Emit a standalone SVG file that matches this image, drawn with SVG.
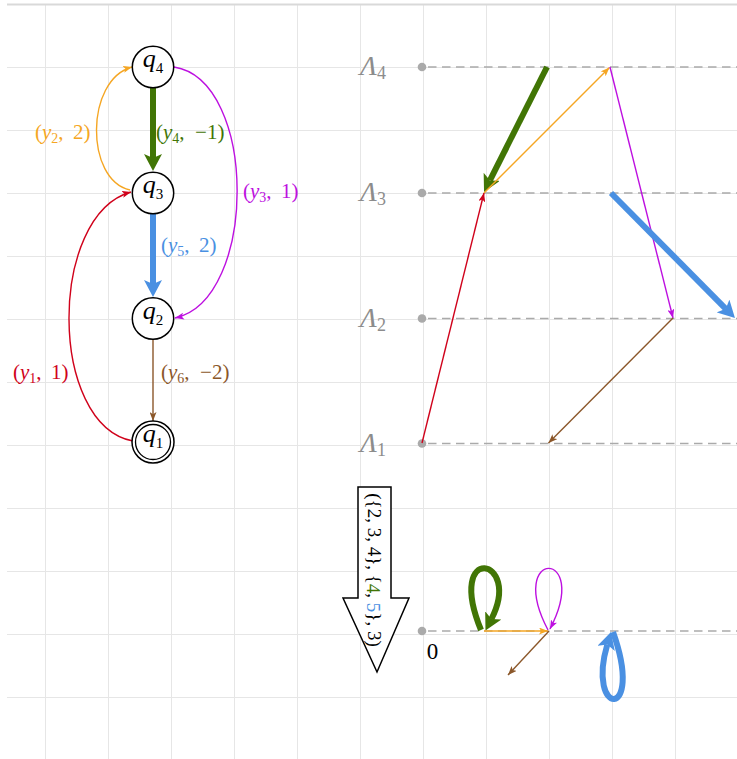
<svg xmlns="http://www.w3.org/2000/svg" width="737" height="759" viewBox="0 0 737 759">
<style>
.grid line{stroke:#e6e6e6;stroke-width:1}
.node circle{fill:#fff;stroke:#000;stroke-width:1.5}
.q{font-family:"Liberation Serif",serif;font-style:italic;font-size:26px;fill:#000}
.sub{font-style:normal;font-size:15px}
.lbl{font-family:"Liberation Serif",serif;font-size:21px}
.lbl .it{font-style:italic}
.lbl .s{font-size:14px}
.lam{font-family:"Liberation Serif",serif;font-style:italic;font-size:28px;fill:#8c8c8c}
.lam .s{font-style:normal;font-size:18px}
.dash{stroke:#aaa;stroke-width:1.5;stroke-dasharray:8.5 5.5;fill:none}
.dot{fill:#aaa}
.thin{fill:none;stroke-width:1.4}
.thick{fill:none;stroke-width:6}
.or{stroke:#f5a623}.gr{stroke:#417505}.mg{stroke:#bd10e0}.bl{stroke:#4a90e2}.rd{stroke:#d0021b}.br{stroke:#8b572a}
</style>
<defs>
<marker id="tOr" markerUnits="userSpaceOnUse" markerWidth="9" markerHeight="7" refX="9" refY="3.5" orient="auto"><path d="M0,0 L9,3.5 L0,7 L2.2,3.5 z" fill="#f5a623"/></marker>
<marker id="tMg" markerUnits="userSpaceOnUse" markerWidth="9" markerHeight="7" refX="9" refY="3.5" orient="auto"><path d="M0,0 L9,3.5 L0,7 L2.2,3.5 z" fill="#bd10e0"/></marker>
<marker id="tRd" markerUnits="userSpaceOnUse" markerWidth="9" markerHeight="7" refX="9" refY="3.5" orient="auto"><path d="M0,0 L9,3.5 L0,7 L2.2,3.5 z" fill="#d0021b"/></marker>
<marker id="tBr" markerUnits="userSpaceOnUse" markerWidth="9" markerHeight="7" refX="9" refY="3.5" orient="auto"><path d="M0,0 L9,3.5 L0,7 L2.2,3.5 z" fill="#8b572a"/></marker>
<marker id="kGr" markerUnits="userSpaceOnUse" markerWidth="17" markerHeight="18" refX="4" refY="9" orient="auto"><path d="M0,0 L17,9 L0,18 L4,9 z" fill="#417505"/></marker>
<marker id="kBl" markerUnits="userSpaceOnUse" markerWidth="17" markerHeight="18" refX="4" refY="9" orient="auto"><path d="M0,0 L17,9 L0,18 L4,9 z" fill="#4a90e2"/></marker>
</defs>
<rect width="737" height="759" fill="#fff"/>
<g class="grid">
<line x1="45.5" y1="5" x2="45.5" y2="759"/><line x1="108.5" y1="5" x2="108.5" y2="759"/><line x1="171.5" y1="5" x2="171.5" y2="759"/><line x1="234.5" y1="5" x2="234.5" y2="759"/><line x1="297.5" y1="5" x2="297.5" y2="759"/><line x1="360.5" y1="5" x2="360.5" y2="759"/><line x1="423.5" y1="5" x2="423.5" y2="759"/><line x1="486.5" y1="5" x2="486.5" y2="759"/><line x1="549.5" y1="5" x2="549.5" y2="759"/><line x1="612.5" y1="5" x2="612.5" y2="759"/><line x1="675.5" y1="5" x2="675.5" y2="759"/>
<line x1="7" y1="67.5" x2="737" y2="67.5"/><line x1="7" y1="130.5" x2="737" y2="130.5"/><line x1="7" y1="193.5" x2="737" y2="193.5"/><line x1="7" y1="256.5" x2="737" y2="256.5"/><line x1="7" y1="319.5" x2="737" y2="319.5"/><line x1="7" y1="382.5" x2="737" y2="382.5"/><line x1="7" y1="445.5" x2="737" y2="445.5"/><line x1="7" y1="508.5" x2="737" y2="508.5"/><line x1="7" y1="571.5" x2="737" y2="571.5"/><line x1="7" y1="634.5" x2="737" y2="634.5"/><line x1="7" y1="697.5" x2="737" y2="697.5"/>
<line x1="7" y1="4.5" x2="737" y2="4.5" style="stroke:#d9d9d9;stroke-width:2"/>
</g>
<g id="levels">
<path class="dash" d="M428,67 H737 M428,193 H737 M428,318.5 H737 M428,443.5 H737 M428,631 H737"/>
<circle class="dot" cx="422" cy="67" r="4.3"/><circle class="dot" cx="422" cy="193" r="4.3"/><circle class="dot" cx="422" cy="318.5" r="4.3"/><circle class="dot" cx="422" cy="443.5" r="4.3"/><circle class="dot" cx="422" cy="631" r="4.3"/>
<text class="lam" x="360" y="75">Λ<tspan class="s" dy="4">4</tspan></text>
<text class="lam" x="360" y="201">Λ<tspan class="s" dy="4">3</tspan></text>
<text class="lam" x="360" y="326.5">Λ<tspan class="s" dy="4">2</tspan></text>
<text class="lam" x="360" y="451.5">Λ<tspan class="s" dy="4">1</tspan></text>
<text x="432.5" y="659" font-family="Liberation Serif, serif" font-size="23" text-anchor="middle">0</text>
</g>
<g id="connectors">
<path class="thick gr" d="M153,88 V158" marker-end="url(#kGr)"/>
<path class="thick bl" d="M153,214 V284" marker-end="url(#kBl)"/>
<path class="thin br" d="M153,340 V421" marker-end="url(#tBr)"/>
<path class="thin or" d="M130,190 C85,180 85,80 132,67" marker-end="url(#tOr)"/>
<path class="thin mg" d="M174,67 C258,80 258,300 175,318" marker-end="url(#tMg)"/>
<path class="thin rd" d="M133,441 C48,425 48,215 131,192" marker-end="url(#tRd)"/>
<path class="thick gr" d="M547,67 L489.9,180.4" marker-end="url(#kGr)"/>
<path class="thin or" d="M484,193 L609.5,67.5" marker-end="url(#tOr)"/>
<path class="thin rd" d="M422,443 L484,193" marker-end="url(#tRd)"/>
<path class="thin mg" d="M610,67 L673,318" marker-end="url(#tMg)"/>
<path class="thick bl" d="M611,193 L725.8,308.8" marker-end="url(#kBl)"/>
<path class="thin br" d="M673,318 L548.5,443" marker-end="url(#tBr)"/>
<path class="thick gr" d="M481,630 C445,542 523,557 491.4,619" marker-end="url(#kGr)"/>
<path class="thin or" d="M484,631 L548,631" marker-end="url(#tOr)"/>
<path class="thin mg" d="M548,630 C505,548 592,548 550,629" marker-end="url(#tMg)"/>
<path class="thin br" d="M549,631 L508,675" marker-end="url(#tBr)"/>
<path class="thick bl" d="M613,632 C645,722 586.1,716.4 607.3,644.5" marker-end="url(#kBl)"/>
</g>
<g id="edge-labels" class="lbl">
<text x="35" y="139" fill="#f5a623">(<tspan class="it">y</tspan><tspan class="s" dy="4">2</tspan><tspan dy="-4">, &#8201;2)</tspan></text>
<text x="156" y="139" fill="#417505">(<tspan class="it">y</tspan><tspan class="s" dy="4">4</tspan><tspan dy="-4">, &#160;−1)</tspan></text>
<text x="243" y="198" fill="#bd10e0">(<tspan class="it">y</tspan><tspan class="s" dy="4">3</tspan><tspan dy="-4">, &#8201;1)</tspan></text>
<text x="161" y="252" fill="#4a90e2">(<tspan class="it">y</tspan><tspan class="s" dy="4">5</tspan><tspan dy="-4">, &#8201;2)</tspan></text>
<text x="13" y="379" fill="#d0021b">(<tspan class="it">y</tspan><tspan class="s" dy="4">1</tspan><tspan dy="-4">, &#8201;1)</tspan></text>
<text x="161" y="379" fill="#8b572a">(<tspan class="it">y</tspan><tspan class="s" dy="4">6</tspan><tspan dy="-4">, &#160;−2)</tspan></text>
</g>
<g id="q4" class="node"><circle cx="153" cy="67" r="20.7"/><text class="q" x="153" y="67" text-anchor="middle">q<tspan class="sub" dy="6">4</tspan></text></g>
<g id="q3" class="node"><circle cx="153" cy="193" r="20.7"/><text class="q" x="153" y="193" text-anchor="middle">q<tspan class="sub" dy="6">3</tspan></text></g>
<g id="q2" class="node"><circle cx="153" cy="318.5" r="20.7"/><text class="q" x="153" y="318.5" text-anchor="middle">q<tspan class="sub" dy="6">2</tspan></text></g>
<g id="q1" class="node"><circle cx="153" cy="442" r="21"/><circle cx="153" cy="442" r="17.5" style="stroke-width:1.3"/><text class="q" x="153" y="442" text-anchor="middle">q<tspan class="sub" dy="6">1</tspan></text></g>
<g id="summary">
<polygon points="358,487 391,487 391,598 409,598 377,672 343,598 358,598" fill="#fff" stroke="#000" stroke-width="1.5"/>
<text transform="translate(374,570) rotate(90)" text-anchor="middle" dominant-baseline="central" font-family="Liberation Serif, serif" font-size="19">({2, 3, 4}, {<tspan fill="#417505">4</tspan>, <tspan fill="#4a90e2">5</tspan>}, 3)</text>
</g>
</svg>
